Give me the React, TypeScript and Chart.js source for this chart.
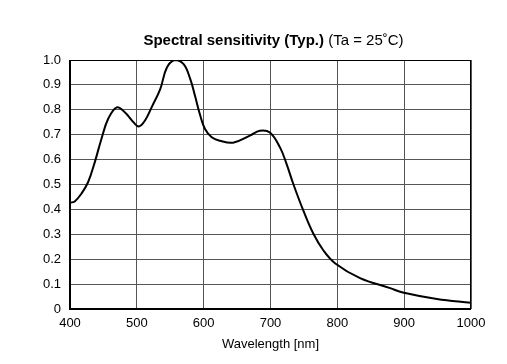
import React, { useEffect, useRef } from "react";
import { Chart, registerables } from "chart.js";

Chart.register(...registerables);

const wavelengths = [400, 407, 417, 427, 437, 447, 457, 470, 482, 495, 503, 512, 523, 535, 545, 557, 570, 580, 587, 595, 602, 612, 624, 644, 669, 684, 699, 714, 724, 734, 749, 764, 779, 797, 834, 879, 898, 949, 1000];
const sensitivity = [0.427, 0.432, 0.463, 0.509, 0.589, 0.683, 0.763, 0.81, 0.79, 0.75, 0.733, 0.756, 0.815, 0.883, 0.97, 1.0, 0.983, 0.923, 0.856, 0.776, 0.723, 0.69, 0.676, 0.668, 0.696, 0.716, 0.709, 0.65, 0.583, 0.503, 0.396, 0.303, 0.236, 0.183, 0.124, 0.084, 0.066, 0.04, 0.025];
const xTicks = [400, 500, 600, 700, 800, 900, 1000];
const titleBold = "Spectral sensitivity (Typ.)";
const titleNormal = " (Ta = 25˚C)";
const xTitle = "Wavelength [nm]";

const FONT = "'Liberation Sans', Arial, sans-serif";

const textPlugin = {
  id: "texts",
  afterDraw(chart: any) {
    const { ctx, chartArea } = chart;
    const cx = (chartArea.left + chartArea.right) / 2;
    ctx.save();
    ctx.strokeStyle = "#000";
    ctx.lineWidth = 1;
    ctx.strokeRect(chartArea.left + 0.5, chartArea.top + 0.5, chartArea.right - chartArea.left - 1, chartArea.bottom - chartArea.top);
    ctx.lineWidth = 2;
    ctx.beginPath();
    ctx.moveTo(chartArea.left, chartArea.top);
    ctx.lineTo(chartArea.left, chartArea.bottom);
    ctx.lineTo(chartArea.right, chartArea.bottom);
    ctx.stroke();
    ctx.fillStyle = "#000";
    ctx.textBaseline = "middle";
    ctx.textAlign = "left";
    ctx.font = `bold 15px ${FONT}`;
    const wb = ctx.measureText(titleBold).width;
    ctx.font = `15px ${FONT}`;
    const wn = ctx.measureText(titleNormal).width;
    const x0 = cx - (wb + wn) / 2 + 3;
    ctx.font = `bold 15px ${FONT}`;
    ctx.fillText(titleBold, x0, 41);
    ctx.font = `15px ${FONT}`;
    ctx.fillText(titleNormal, x0 + wb, 41);
    ctx.font = `13px ${FONT}`;
    ctx.textAlign = "center";
    ctx.fillText(xTitle, cx, 344);
    ctx.restore();
  },
};

export default function App() {
  const ref = useRef<HTMLCanvasElement>(null);
  useEffect(() => {
    const chart = new Chart(ref.current!, {
      type: "line",
      data: {
        datasets: [
          {
            data: wavelengths.map((w, i) => ({ x: w, y: sensitivity[i] })),
            borderColor: "#000",
            borderWidth: 2,
            pointRadius: 0,
            tension: 0.4,
            fill: false,
          },
        ],
      },
      options: {
        responsive: false,
        animation: false,
        layout: { padding: { left: 0, right: 36, top: 60, bottom: 0 } },
        plugins: { legend: { display: false }, tooltip: { enabled: false }, title: { display: false } },
        scales: {
          x: {
            type: "linear",
            min: 400,
            max: 1000,
            afterBuildTicks: (s: any) => {
              s.ticks = xTicks.map((v) => ({ value: v }));
            },
            afterFit: (s: any) => {
              s.height = 55;
            },
            grid: { color: "#555", lineWidth: 1, drawTicks: false },
            border: { display: false },
            ticks: {
              color: "#000",
              font: { family: FONT, size: 13 },
              padding: 7,
              maxRotation: 0,
              autoSkip: false,
              callback: (v: any) => String(v),
            },
          },
          y: {
            min: 0,
            max: 1,
            afterFit: (s: any) => {
              s.width = 70;
            },
            grid: { color: "#555", lineWidth: 1, drawTicks: false },
            border: { display: false },
            ticks: {
              stepSize: 0.1,
              color: "#000",
              font: { family: FONT, size: 13 },
              padding: 9,
              callback: (v: any) => (Math.abs(v) < 1e-9 ? "0" : Number(v).toFixed(1)),
            },
          },
        },
      },
      plugins: [textPlugin],
    } as any);
    return () => chart.destroy();
  }, []);
  return (
    <div style={{ position: "fixed", left: 0, top: 0, width: 507, height: 364, background: "#fff" }}>
      <canvas ref={ref} width={507} height={364} />
    </div>
  );
}
